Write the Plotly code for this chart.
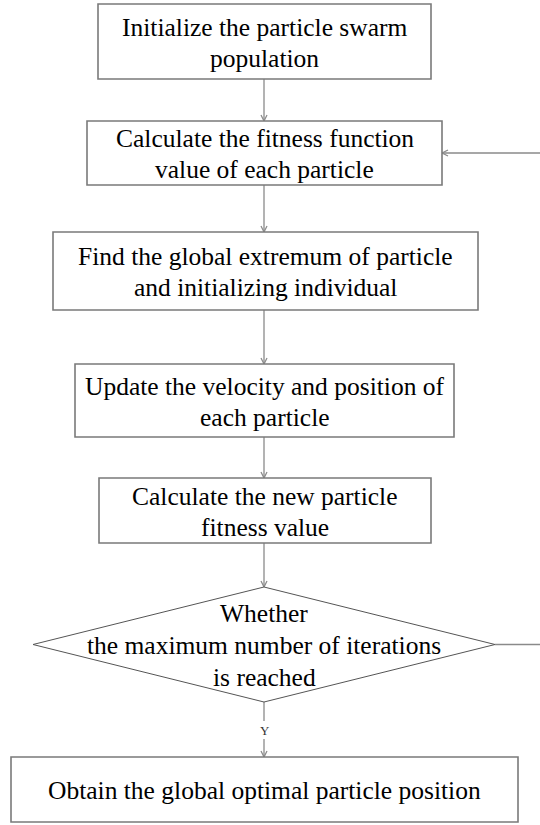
import plotly.graph_objects as go

# ---- content ----
step_labels = [
    "Initialize the particle swarm<br>population",
    "Calculate the fitness function<br>value of each particle",
    "Find the global extremum of particle<br>and initializing individual",
    "Update the velocity and position of<br>each particle",
    "Calculate the new particle<br>fitness value",
]
decision_label = "Whether<br>the maximum number of iterations<br>is reached"
final_label = "Obtain the global optimal particle position"
yes_label = "Y"

# ---- layout geometry (pixel space) ----
W, H = 540, 825
boxes = [(98, 431, 4, 79), (87, 442, 121, 185), (53, 478, 232, 310),
         (75, 454, 364, 437), (99, 431, 478, 543)]
diamond = (33, 495, 587, 702)        # left, right, top, bottom
final_box = (11, 518, 757, 822)
cx = 264
LINE = "#8a8a8a"
BOX = "#7a7a7a"
FONT = dict(family="Liberation Serif", size=25.5, color="black")
LSP = 31

fig = go.Figure()
shapes = []
annotations = []


def seg(x0, y0, x1, y1, color=LINE, width=1.3):
    shapes.append(dict(type="line", x0=x0, y0=y0, x1=x1, y1=y1, xref="x", yref="y",
                       line=dict(color=color, width=width)))


def head(x, y, direction):
    # open V arrowhead with tip at (x, y)
    L, Wd = 6, 3
    if direction == "down":
        seg(x - Wd, y - L, x, y); seg(x + Wd, y - L, x, y)
    elif direction == "left":
        seg(x + L, y - Wd, x, y); seg(x + L, y + Wd, x, y)


def rect(b):
    x0, x1, y0, y1 = b
    shapes.append(dict(type="rect", x0=x0, x1=x1, y0=y0, y1=y1, xref="x", yref="y",
                       line=dict(color=BOX, width=1.6), fillcolor="white"))


def label(text, x, y, font=FONT, lsp=LSP):
    lines = text.split("<br>")
    n = len(lines)
    for i, ln in enumerate(lines):
        yy = y + (i - (n - 1) / 2) * lsp
        annotations.append(dict(text=ln, x=x, y=yy, xref="x", yref="y", showarrow=False,
                                font=font, xanchor="center", yanchor="middle", align="center"))


# connectors between boxes
for a, b in zip(boxes[:-1], boxes[1:]):
    seg(cx, a[3], cx, b[2]); head(cx, b[2], "down")
seg(cx, boxes[-1][3], cx, diamond[2]); head(cx, diamond[2], "down")

# decision -> final with Y label
seg(cx, diamond[3], cx, 721)
seg(cx, 739, cx, final_box[2]); head(cx, final_box[2], "down")
label(yes_label, cx + 1, 730, dict(family="Liberation Serif", size=13, color="#333"))

# feedback loop (continues off the right edge)
dl, dr, dt, db = diamond
dmid = (dt + db) / 2
seg(dr, dmid, W + 20, dmid)
b2 = boxes[1]
ymid2 = (b2[2] + b2[3]) / 2
seg(W + 20, ymid2, b2[1], ymid2); head(b2[1], ymid2, "left")

# boxes
for b, t in zip(boxes, step_labels):
    rect(b)
    label(t, (b[0] + b[1]) / 2, (b[2] + b[3]) / 2 + 1)

# diamond
shapes.append(dict(type="path",
                   path=f"M {dl} {dmid} L {cx} {dt} L {dr} {dmid} L {cx} {db} Z",
                   xref="x", yref="y", line=dict(color="#555", width=1), fillcolor="white"))
label(decision_label, cx, dmid + 1, lsp=32)

# final box
rect(final_box)
label(final_label, (final_box[0] + final_box[1]) / 2, (final_box[2] + final_box[3]) / 2 + 1)

fig.update_layout(
    width=W, height=H, margin=dict(l=0, r=0, t=0, b=0),
    paper_bgcolor="white", plot_bgcolor="white",
    shapes=shapes, annotations=annotations, showlegend=False,
    xaxis=dict(range=[0, W], visible=False, fixedrange=True),
    yaxis=dict(range=[H, 0], visible=False, fixedrange=True),
)
fig.write_html("out.html", config={"displayModeBar": False},
               post_script="document.body.style.margin='0';")
